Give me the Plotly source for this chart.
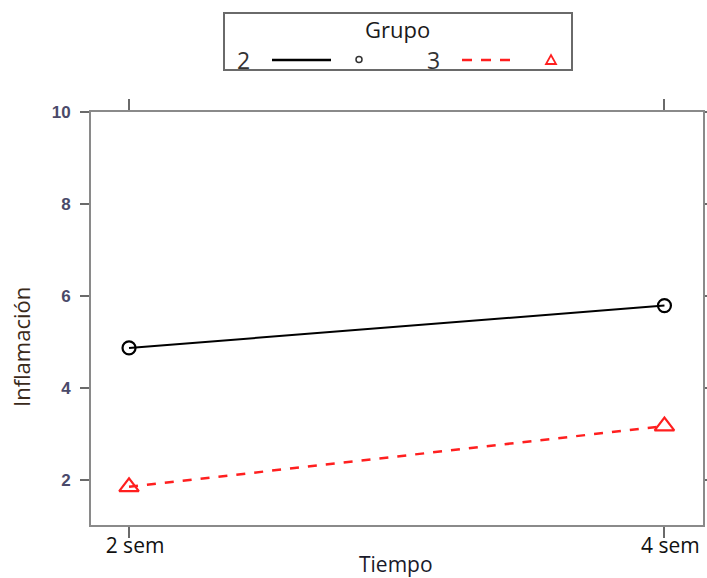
import plotly.graph_objects as go

tiempo = ["2 sem", "4 sem"]
grupo2 = [4.87, 5.79]
grupo3 = [1.85, 3.17]
y_ticks = [2, 4, 6, 8, 10]
grupos = ["2", "3"]

W, H = 707, 578
L, R, T, B = 91, 703, 112, 525

def px(x):
    return (x - L) / (R - L)

def py(y):
    return (B - y) / (B - T)

fig = go.Figure()
fig.add_trace(go.Scatter(
    x=[0, 1], y=grupo2, mode="lines+markers", showlegend=False,
    line=dict(color="black", width=2),
    marker=dict(symbol="circle-open", size=13, color="black", line=dict(width=2.2))))
fig.add_trace(go.Scatter(
    x=[0, 1], y=grupo3, mode="lines+markers", showlegend=False,
    line=dict(color="#ff1f1f", width=2.5, dash="9px,9px"),
    marker=dict(symbol="triangle-up-open", size=17, color="#ff1f1f", line=dict(width=2.2))))

shapes = []
annotations = []
# legend box
shapes.append(dict(type="rect", xref="paper", yref="paper",
                   x0=px(224), x1=px(572), y0=py(70), y1=py(13),
                   line=dict(color="#6a6a6a", width=2), fillcolor="white"))
annotations.append(dict(text="Grupo", xref="paper", yref="paper", x=px(397), y=py(29),
                        showarrow=False, xanchor="center", yanchor="middle",
                        font=dict(family="Open Sans", size=22, color="#1a1a1a")))
annotations.append(dict(text=grupos[0], xref="paper", yref="paper", x=px(243), y=py(60),
                        showarrow=False, xanchor="center", yanchor="middle",
                        font=dict(family="Open Sans", size=23, color="#333")))
annotations.append(dict(text=grupos[1], xref="paper", yref="paper", x=px(433), y=py(60),
                        showarrow=False, xanchor="center", yanchor="middle",
                        font=dict(family="Open Sans", size=23, color="#333")))
shapes.append(dict(type="line", xref="paper", yref="paper", x0=px(272), x1=px(331),
                   y0=py(60), y1=py(60), line=dict(color="black", width=2.5)))
shapes.append(dict(type="circle", xref="paper", yref="paper", x0=px(356), x1=px(362),
                   y0=py(62.5), y1=py(56.5), line=dict(color="#333", width=1.5)))
shapes.append(dict(type="line", xref="paper", yref="paper", x0=px(462), x1=px(518),
                   y0=py(60), y1=py(60), line=dict(color="#ff1f1f", width=2.5, dash="10px,9px")))
tri = "M {} {} L {} {} L {} {} Z".format(px(546), py(64), px(556), py(64), px(551), py(55))
shapes.append(dict(type="path", xref="paper", yref="paper", path=tri,
                   line=dict(color="#ff1f1f", width=1.8)))

annotations.append(dict(text="Inflamación", xref="paper", yref="paper", x=px(21), y=py(347),
                        showarrow=False, textangle=-90, xanchor="center", yanchor="middle",
                        font=dict(family="Open Sans", size=22, color="#3a2a1a")))
annotations.append(dict(text="Tiempo", xref="paper", yref="paper", x=px(396), y=py(564),
                        showarrow=False, xanchor="center", yanchor="middle",
                        font=dict(family="Open Sans", size=21, color="#1a1a2a")))

fig.update_layout(
    width=W, height=H,
    margin=dict(l=L, r=W - R, t=T, b=H - B),
    paper_bgcolor="white", plot_bgcolor="white",
    shapes=shapes, annotations=annotations,
    xaxis=dict(range=[-0.071, 1.072], tickvals=[0, 1], ticktext=tiempo, automargin=False,
               showgrid=False, zeroline=False, showline=True, linecolor="#8a8a8a", linewidth=2,
               mirror="allticks", ticks="outside", ticklen=11, tickcolor="#6a6a6a", tickwidth=1.5,
               ticklabelstandoff=-10, ticklabelshift=6,
               tickfont=dict(family="Open Sans", size=21, color="#111")),
    yaxis=dict(range=[1.02, 10], tickvals=y_ticks, automargin=False,
               showgrid=False, zeroline=False, showline=True, linecolor="#8a8a8a", linewidth=2,
               mirror="allticks", ticks="outside", ticklen=9, tickcolor="#6a6a6a", tickwidth=1.5,
               ticklabelstandoff=6,
               tickfont=dict(family="Arial", size=17, color="#4a4a6a", weight="bold")),
)

fig.write_html("out.html")
